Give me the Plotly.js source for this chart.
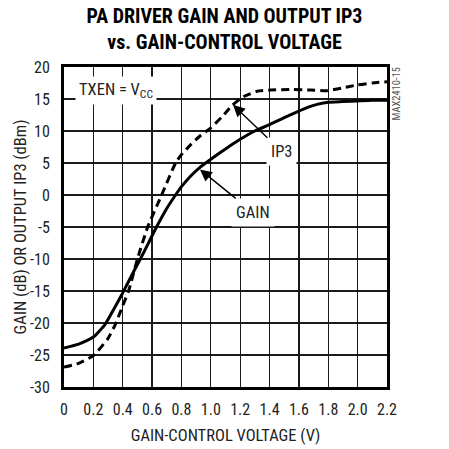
<!DOCTYPE html>
<html>
<head>
<meta charset="utf-8">
<script src="https://cdn.plot.ly/plotly-3.0.1.min.js"></script>
<style>html,body{margin:0;padding:0;background:#fff;}#chart{width:449px;height:449px;}</style>
</head>
<body>
<div id="chart"></div>
<script>
// Gain-control voltage (V) and gain (dB)
const gainX = [0, 0.1, 0.2, 0.28, 0.34, 0.4, 0.46, 0.52, 0.58, 0.63, 0.7, 0.76, 0.8, 0.86, 0.93, 1.0, 1.1, 1.2, 1.3, 1.4, 1.5, 1.6, 1.66, 1.73, 1.8, 1.9, 2.0, 2.1, 2.2];
const gainY = [-23.9, -23.3, -22.2, -20.2, -17.8, -15.3, -12.6, -10.0, -7.3, -5.0, -2.1, 0.0, 1.3, 2.9, 4.4, 5.6, 7.2, 8.7, 10.0, 11.0, 12.1, 13.1, 13.7, 14.2, 14.5, 14.6, 14.7, 14.8, 14.8];
// Output IP3 (dBm)
const ip3X = [0, 0.1, 0.2, 0.3, 0.35, 0.4, 0.44, 0.5, 0.57, 0.665, 0.76, 0.8, 0.86, 0.93, 1.0, 1.08, 1.145, 1.225, 1.315, 1.41, 1.55, 1.68, 1.79, 1.89, 2.0, 2.1, 2.2];
const ip3Y = [-26.9, -26.3, -25.1, -22.4, -20.2, -17.3, -15.0, -10.0, -5.0, 0.0, 5.0, 6.3, 7.8, 9.3, 10.5, 12.3, 14.0, 15.4, 16.2, 16.4, 16.5, 16.4, 16.3, 16.7, 17.2, 17.5, 17.7];
// Tick labels
const xTickVals = [0, 0.2, 0.4, 0.6, 0.8, 1.0, 1.2, 1.4, 1.6, 1.8, 2.0, 2.2];
const xTickText = ["0", "0.2", "0.4", "0.6", "0.8", "1.0", "1.2", "1.4", "1.6", "1.8", "2.0", "2.2"];
const yTickVals = [-30, -25, -20, -15, -10, -5, 0, 5, 10, 15, 20];
const yTickText = ["-30", "-25", "-20", "-15", "-10", "-5", "0", "5", "10", "15", "20"];

const FONT = '"Roboto Condensed", "DejaVu Sans Condensed", sans-serif';
const TXT = '#222';

const traces = [
  {x: ip3X, y: ip3Y, mode: 'lines', name: 'IP3',
   line: {color: '#000', width: 3, dash: '8px,5px', shape: 'spline', smoothing: 0.5}},
  {x: gainX, y: gainY, mode: 'lines', name: 'GAIN',
   line: {color: '#000', width: 3, shape: 'spline', smoothing: 0.5}}
];

const axisCommon = {
  showgrid: true, gridcolor: '#1a1a1a', gridwidth: 1.2,
  showline: true, linecolor: '#000', linewidth: 3, mirror: true,
  zeroline: false, ticks: 'outside', ticklen: 6, tickcolor: 'rgba(0,0,0,0)',
  tickfont: {family: FONT, size: 16, color: TXT}
};

const layout = {
  width: 449, height: 449,
  margin: {l: 64, r: 62, t: 67, b: 62},
  paper_bgcolor: '#fff', plot_bgcolor: '#fff',
  showlegend: false,
  font: {family: FONT, color: TXT},
  title: {
    text: '<b>PA DRIVER GAIN AND OUTPUT IP3<br>vs. GAIN-CONTROL VOLTAGE</b>',
    font: {family: FONT, size: 20, color: '#000'},
    x: 0.5, xanchor: 'center', xref: 'container',
    y: 0.949, yanchor: 'top', yref: 'container'
  },
  xaxis: Object.assign({}, axisCommon, {
    range: [0, 2.2], tickvals: xTickVals, ticktext: xTickText,
    title: {text: 'GAIN-CONTROL VOLTAGE (V)', font: {family: FONT, size: 16.5, color: TXT}, standoff: 12}
  }),
  yaxis: Object.assign({}, axisCommon, {
    range: [-30, 20], tickvals: yTickVals, ticktext: yTickText, ticklen: 8,
    title: {text: 'GAIN (dB) OR OUTPUT IP3 (dBm)', font: {family: FONT, size: 16.5, color: TXT}, standoff: 0}
  }),
  annotations: [
    {x: 0.354, y: 16.3, xref: 'x', yref: 'y', text: 'TXEN = V<sub>CC</sub>', showarrow: false,
     bgcolor: '#fff', borderpad: 3, font: {family: FONT, size: 16.5, color: TXT}},
    {x: 1.151, y: 14.1, xref: 'x', yref: 'y', text: 'IP3', showarrow: true,
     ax: 49, ay: 47, arrowhead: 2, arrowsize: 1.7, arrowwidth: 1.4, arrowcolor: '#000',
     bgcolor: '#fff', borderpad: 4, font: {family: FONT, size: 16.5, color: TXT}},
    {x: 0.926, y: 4.0, xref: 'x', yref: 'y', text: 'GAIN', showarrow: true,
     ax: 53, ay: 43, arrowhead: 2, arrowsize: 1.7, arrowwidth: 1.4, arrowcolor: '#000',
     bgcolor: '#fff', borderpad: 4, font: {family: FONT, size: 16.5, color: TXT}},
    {x: 1.031, y: 0.917, xref: 'paper', yref: 'paper', xanchor: 'center', yanchor: 'middle',
     text: 'MAX2410-15', showarrow: false,
     textangle: -90, font: {family: FONT, size: 10.5, color: '#555'}}
  ]
};

Plotly.newPlot('chart', traces, layout, {displayModeBar: false, staticPlot: true});
</script>
</body>
</html>
